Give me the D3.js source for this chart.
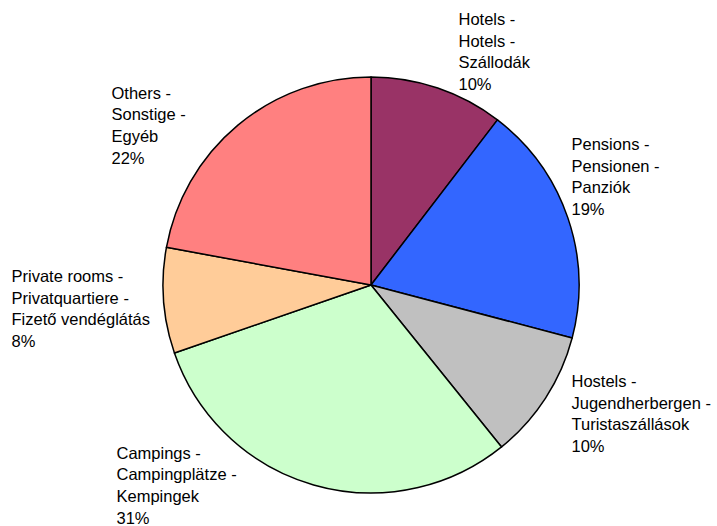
<!DOCTYPE html>
<html>
<head>
<meta charset="utf-8">
<script src="https://cdn.jsdelivr.net/npm/d3@7"></script>
<style>
  html, body { margin: 0; padding: 0; background: #fff; }
  svg { display: block; }
  text { font-family: "Liberation Sans", Arial, sans-serif; font-size: 16.5px; fill: #000; }
</style>
</head>
<body>
<svg id="chart" width="717" height="526"></svg>
<script>
// ---- data ----
const categories = [
  ["Hotels -", "Hotels -", "Szállodák"],
  ["Pensions -", "Pensionen -", "Panziók"],
  ["Hostels -", "Jugendherbergen -", "Turistaszállások"],
  ["Campings -", "Campingplätze -", "Kempingek"],
  ["Private rooms -", "Privatquartiere -", "Fizető vendéglátás"],
  ["Others -", "Sonstige -", "Egyéb"]
];
const shares = [10.4, 18.7, 10.1, 30.5, 8.2, 22.1];
const percentLabels = ["10%", "19%", "10%", "31%", "8%", "22%"];
const colors = ["#993366", "#3366FF", "#C0C0C0", "#CCFFCC", "#FFCC99", "#FF8080"];

// ---- layout ----
const cx = 371, cy = 285, radius = 208;
const lineHeight = 21.7;
// label text-block positions (left x, first baseline y)
const labelLayout = [
  [458.5, 25],
  [571.5, 150],
  [571.5, 387],
  [116.5, 458.5],
  [11.5, 282],
  [111.5, 98.5]
];

const svg = d3.select("#chart");
const data = shares.map((v, i) => ({ v, i }));

const pie = d3.pie().value(d => d.v).sort(null);
const arc = d3.arc().innerRadius(0).outerRadius(radius);

const g = svg.append("g").attr("transform", `translate(${cx},${cy})`);
g.selectAll("path")
  .data(pie(data))
  .join("path")
  .attr("d", arc)
  .attr("fill", d => colors[d.data.i])
  .attr("stroke", "#000")
  .attr("stroke-width", 1.5)
  .attr("stroke-linejoin", "round");

const labels = svg.selectAll("text.lbl")
  .data(data)
  .join("text")
  .attr("class", "lbl")
  .attr("x", d => labelLayout[d.i][0])
  .attr("y", d => labelLayout[d.i][1]);

labels.each(function(d) {
  const lines = categories[d.i].concat([percentLabels[d.i]]);
  const t = d3.select(this);
  lines.forEach((ln, k) => {
    t.append("tspan")
      .attr("x", labelLayout[d.i][0])
      .attr("dy", k === 0 ? 0 : lineHeight)
      .text(ln);
  });
});
</script>
</body>
</html>
